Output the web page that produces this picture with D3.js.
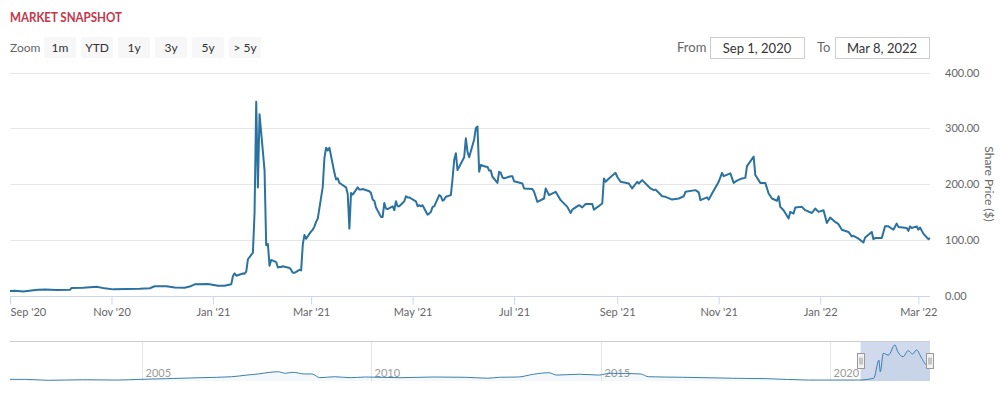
<!DOCTYPE html>
<html>
<head>
<meta charset="utf-8">
<script src="https://cdn.jsdelivr.net/npm/d3@7"></script>
<style>
  body { margin: 0; background: #fff; }
  svg { display: block; font-family: Lato, "Open Sans", sans-serif; }
</style>
</head>
<body>
<svg id="chart" width="1000" height="396"></svg>
<script>
// --- Data ---
const sharePrice = [
  ["2020-09-01",8],["2020-09-04",8.5],["2020-09-09",7.3],["2020-09-15",9.5],["2020-09-18",10.5],
  ["2020-09-22",10.8],["2020-09-29",10],["2020-10-07",10.2],["2020-10-08",13.5],["2020-10-15",13.8],
  ["2020-10-23",15.8],["2020-10-28",12.8],["2020-11-02",11],["2020-11-10",11.5],["2020-11-18",12],
  ["2020-11-24",13],["2020-11-27",16.5],["2020-12-04",16.5],["2020-12-09",14.5],["2020-12-15",14],
  ["2020-12-18",16],["2020-12-21",20],["2020-12-29",20.5],["2021-01-04",17.5],["2021-01-08",17.5],
  ["2021-01-12",20],["2021-01-13",35],["2021-01-14",39.9],["2021-01-15",35.5],["2021-01-19",39.4],
  ["2021-01-20",39.1],["2021-01-21",43],["2021-01-22",65],["2021-01-25",76.8],["2021-01-26",148],
  ["2021-01-27",347.5],["2021-01-28",193.6],["2021-01-29",325],["2021-02-01",225],["2021-02-02",90],
  ["2021-02-03",92.4],["2021-02-04",53.5],["2021-02-05",63.8],["2021-02-08",60],["2021-02-09",50.3],
  ["2021-02-10",51.2],["2021-02-11",51.1],["2021-02-12",52.4],["2021-02-16",49.5],["2021-02-17",45.9],
  ["2021-02-18",40.7],["2021-02-19",40.6],["2021-02-22",46],["2021-02-23",45],["2021-02-24",91.7],
  ["2021-02-25",108.7],["2021-02-26",101.7],["2021-03-01",115],["2021-03-02",118],["2021-03-03",124],
  ["2021-03-04",132],["2021-03-05",138],["2021-03-08",195],["2021-03-09",247],["2021-03-10",265],
  ["2021-03-11",260],["2021-03-12",265],["2021-03-15",220],["2021-03-16",208],["2021-03-17",210],
  ["2021-03-18",202],["2021-03-19",200],["2021-03-22",194],["2021-03-23",182],["2021-03-24",120],
  ["2021-03-25",184],["2021-03-26",181],["2021-03-29",194],["2021-03-30",190],["2021-03-31",190],
  ["2021-04-01",191],["2021-04-05",187],["2021-04-06",184],["2021-04-07",172],["2021-04-08",170],
  ["2021-04-09",158],["2021-04-12",141],["2021-04-13",141],["2021-04-14",166],["2021-04-15",156],
  ["2021-04-16",155],["2021-04-19",160],["2021-04-20",153],["2021-04-21",169],["2021-04-22",160],
  ["2021-04-23",160],["2021-04-26",169],["2021-04-27",178],["2021-04-28",176],["2021-04-29",176],
  ["2021-04-30",174],["2021-05-03",169],["2021-05-04",160],["2021-05-05",162],["2021-05-06",160],
  ["2021-05-07",162],["2021-05-10",145],["2021-05-11",147],["2021-05-12",150],["2021-05-13",159],
  ["2021-05-14",160],["2021-05-17",180],["2021-05-18",178],["2021-05-19",170],["2021-05-20",172],
  ["2021-05-21",177],["2021-05-24",180],["2021-05-25",209],["2021-05-26",243],["2021-05-27",255],
  ["2021-05-28",225],["2021-06-01",248],["2021-06-02",282],["2021-06-03",258],["2021-06-04",248],
  ["2021-06-07",280],["2021-06-08",300],["2021-06-09",303],["2021-06-10",222],["2021-06-11",234],
  ["2021-06-14",231],["2021-06-15",231],["2021-06-16",224],["2021-06-17",224],["2021-06-18",213],
  ["2021-06-21",202],["2021-06-22",222],["2021-06-23",220],["2021-06-24",212],["2021-06-25",210],
  ["2021-06-28",213],["2021-06-29",214],["2021-06-30",214],["2021-07-01",205],["2021-07-06",201],
  ["2021-07-07",192],["2021-07-12",191],["2021-07-13",186],["2021-07-15",168],["2021-07-19",174],
  ["2021-07-20",192],["2021-07-22",180],["2021-07-26",186],["2021-07-29",171],["2021-08-02",159],
  ["2021-08-04",148],["2021-08-05",154],["2021-08-09",162],["2021-08-11",158],["2021-08-13",164],
  ["2021-08-17",164],["2021-08-18",154],["2021-08-23",165],["2021-08-24",210],["2021-08-25",204],
  ["2021-08-27",210],["2021-08-31",220],["2021-09-01",213],["2021-09-03",204],["2021-09-08",201],
  ["2021-09-10",192],["2021-09-13",204],["2021-09-14",201],["2021-09-16",207],["2021-09-21",192],
  ["2021-09-23",189],["2021-09-24",190],["2021-09-28",178],["2021-09-30",177],["2021-10-04",172],
  ["2021-10-08",174],["2021-10-11",178],["2021-10-12",186],["2021-10-18",189],["2021-10-20",185],
  ["2021-10-21",171],["2021-10-25",176],["2021-10-26",172],["2021-10-28",183],["2021-11-01",204],
  ["2021-11-03",220],["2021-11-04",214],["2021-11-08",219],["2021-11-10",202],["2021-11-12",206],
  ["2021-11-15",210],["2021-11-17",211],["2021-11-18",232],["2021-11-22",249],["2021-11-23",216],
  ["2021-11-26",202],["2021-11-29",202],["2021-12-01",183],["2021-12-03",174],["2021-12-06",170],
  ["2021-12-07",178],["2021-12-08",159],["2021-12-10",153],["2021-12-13",138],["2021-12-14",150],
  ["2021-12-16",147],["2021-12-17",158],["2021-12-21",159],["2021-12-23",153],["2021-12-27",148],
  ["2021-12-29",156],["2021-12-31",150],["2022-01-03",153],["2022-01-05",130],["2022-01-07",140],
  ["2022-01-10",132],["2022-01-12",128],["2022-01-14",118],["2022-01-18",114],["2022-01-20",106],
  ["2022-01-21",107],["2022-01-24",102],["2022-01-27",95],["2022-01-28",104],["2022-02-01",114],
  ["2022-02-02",101],["2022-02-03",103],["2022-02-07",103],["2022-02-09",124],["2022-02-11",124],
  ["2022-02-14",118],["2022-02-16",129],["2022-02-17",123],["2022-02-22",121],["2022-02-23",116],
  ["2022-02-24",124],["2022-02-25",121],["2022-02-28",124],["2022-03-01",118],["2022-03-02",122],
  ["2022-03-04",111],["2022-03-07",101],["2022-03-08",103]
];

// full history shown in the navigator strip
const navHistory = [
  ["2002-02-13",12],["2002-06-15",12],["2002-12-15",5],["2003-09-15",9],["2004-06-15",7],
  ["2004-12-15",12],["2005-07-15",17],["2006-04-15",24],["2006-12-15",31],["2007-04-15",43],
  ["2007-07-15",51],["2007-10-15",63],["2007-12-20",67],["2008-02-15",56],["2008-04-15",63],
  ["2008-07-15",51],["2008-09-15",51],["2008-11-15",24],["2009-03-15",31],["2009-07-15",24],
  ["2009-11-15",29],["2010-08-15",24],["2011-05-15",29],["2012-01-15",27],["2012-07-15",20],
  ["2012-10-15",27],["2013-03-15",29],["2013-07-15",49],["2013-11-15",60],["2014-01-15",43],
  ["2014-07-15",49],["2014-12-15",43],["2015-03-15",56],["2015-11-15",51],["2016-01-15",31],
  ["2016-10-15",27],["2017-11-15",20],["2018-08-15",17],["2019-07-15",7],["2020-08-15",7],
  ["2020-12-15",20],["2021-01-25",152],["2021-02-05",67],["2021-03-01",201],["2021-04-10",188],
  ["2021-06-01",261],["2021-06-25",212],["2021-08-05",176],["2021-09-15",220],["2021-10-20",196],
  ["2021-11-20",225],["2022-01-01",165],["2022-02-10",116],["2022-03-08",116]
];

const zoomButtons = ["1m", "YTD", "1y", "3y", "5y", "> 5y"];
const yTicks = [0, 100, 200, 300, 400];
const navYears = [2005, 2010, 2015, 2020];
const rangeFrom = "Sep 1, 2020";
const rangeTo = "Mar 8, 2022";
const rangeStart = "2020-09-01";
const rangeEnd = "2022-03-08";
const historyStart = "2002-02-13";

const parse = d3.timeParse("%Y-%m-%d");
const series = sharePrice.map(([d, v]) => ({ date: parse(d), value: v }));
const navSeries = navHistory.map(([d, v]) => ({ date: parse(d), value: v }));

const svg = d3.select("#chart");
const left = 10, right = 930;

// --- Header ---
svg.append("text")
  .attr("x", 10).attr("y", 22)
  .attr("fill", "#c5364a")
  .attr("textLength", 112)
  .attr("lengthAdjust", "spacingAndGlyphs")
  .style("font-size", "14px").style("font-weight", "bold")
  .text("MARKET SNAPSHOT");

svg.append("text")
  .attr("x", 10).attr("y", 52)
  .attr("fill", "#666").style("font-size", "12px")
  .text("Zoom");

const btn = svg.selectAll("g.btn")
  .data(zoomButtons)
  .enter().append("g")
  .attr("class", "btn")
  .attr("transform", (d, i) => `translate(${44 + i * 37},37)`);

btn.append("rect")
  .attr("width", 32).attr("height", 21).attr("rx", 2)
  .attr("fill", "#f7f7f7");

btn.append("text")
  .attr("x", 16).attr("y", 15)
  .attr("text-anchor", "middle")
  .attr("fill", "#333").style("font-size", "12px")
  .text(d => d);

function rangeBox(label, labelX, boxX, value) {
  svg.append("text")
    .attr("x", labelX).attr("y", 52)
    .attr("fill", "#666").style("font-size", "13px")
    .text(label);
  svg.append("rect")
    .attr("x", boxX + 0.5).attr("y", 37.5)
    .attr("width", 94).attr("height", 21)
    .attr("fill", "#fff").attr("stroke", "#ccc");
  svg.append("text")
    .attr("x", boxX + 47).attr("y", 52.5)
    .attr("text-anchor", "middle")
    .attr("fill", "#333").style("font-size", "13px")
    .text(value);
}
rangeBox("From", 677, 710, rangeFrom);
rangeBox("To", 817, 835, rangeTo);

// --- Main chart ---
const x = d3.scaleTime()
  .domain([parse(rangeStart), parse(rangeEnd)])
  .range([left, right]);

const y = d3.scaleLinear()
  .domain([0, 400])
  .range([295.5, 72.5]);

svg.append("g")
  .selectAll("line")
  .data(yTicks.filter(d => d > 0))
  .enter().append("line")
  .attr("x1", left).attr("x2", right)
  .attr("y1", d => Math.round(y(d)) + 0.5)
  .attr("y2", d => Math.round(y(d)) + 0.5)
  .attr("stroke", "#e6e6e6");

svg.append("g")
  .selectAll("text")
  .data(yTicks)
  .enter().append("text")
  .attr("x", 945)
  .attr("y", d => y(d) + 4)
  .attr("fill", "#666").style("font-size", "11px")
  .text(d => d3.format(".2f")(d));

svg.append("text")
  .attr("transform", `translate(985,${y(200)}) rotate(90)`)
  .attr("text-anchor", "middle")
  .attr("fill", "#666").style("font-size", "12px")
  .text("Share Price ($)");

const xAxisG = svg.append("g")
  .attr("transform", `translate(0,${Math.round(y(0)) + 0.5})`)
  .call(d3.axisBottom(x)
    .ticks(d3.timeMonth.every(2))
    .tickSize(8)
    .tickFormat(d3.timeFormat("%b '%y")));

xAxisG.select(".domain").attr("stroke", "#ccd6eb").attr("d", `M${left},0H${right}`);
xAxisG.selectAll(".tick line").attr("stroke", "#ccd6eb");
xAxisG.selectAll(".tick text")
  .attr("y", 12)
  .attr("fill", "#666")
  .style("font-size", "11px")
  .style("font-family", "Lato, 'Open Sans', sans-serif")
  .attr("text-anchor", (d, i) => i === 0 ? "start" : "middle");

const line = d3.line()
  .x(d => x(d.date))
  .y(d => y(d.value));

svg.append("path")
  .datum(series)
  .attr("fill", "none")
  .attr("stroke", "#2b72a0")
  .attr("stroke-width", 2)
  .attr("stroke-linejoin", "round")
  .attr("d", line);

// --- Navigator ---
const navTop = 341, navBottom = 381;
const nx = d3.scaleTime()
  .domain([parse(historyStart), parse(rangeEnd)])
  .range([left, right]);
const ny = d3.scaleLinear()
  .domain([0, 290])
  .range([navBottom, navTop]);

navYears.forEach(yr => {
  const px = Math.round(nx(new Date(yr, 0, 1))) + 0.5;
  svg.append("line")
    .attr("x1", px).attr("x2", px)
    .attr("y1", navTop).attr("y2", navBottom)
    .attr("stroke", "#e6e6e6");
  svg.append("text")
    .attr("x", px + 3).attr("y", 377)
    .attr("fill", "#999").style("font-size", "11px")
    .text(yr);
});

svg.append("line")
  .attr("x1", left).attr("x2", right)
  .attr("y1", navTop + 0.5).attr("y2", navTop + 0.5)
  .attr("stroke", "#ccc");

const selX0 = nx(parse(rangeStart)), selX1 = nx(parse(rangeEnd));
svg.append("rect")
  .attr("x", selX0).attr("y", navTop + 1)
  .attr("width", selX1 - selX0).attr("height", navBottom - navTop - 1)
  .attr("fill", "rgba(102,133,194,0.3)");

svg.append("path")
  .datum(navSeries)
  .attr("fill", "rgba(43,114,160,0.05)")
  .attr("d", d3.area().x(d => nx(d.date)).y0(navBottom).y1(d => ny(d.value)).curve(d3.curveMonotoneX));

svg.append("path")
  .datum(navSeries)
  .attr("fill", "none")
  .attr("stroke", "#3a80b0")
  .attr("stroke-width", 1)
  .attr("d", d3.line().x(d => nx(d.date)).y(d => ny(d.value)).curve(d3.curveMonotoneX));

[selX0, selX1].forEach(hx => {
  const h = svg.append("g").attr("transform", `translate(${Math.round(hx) - 3.5},353.5)`);
  h.append("rect")
    .attr("width", 7).attr("height", 15)
    .attr("fill", "#f2f2f2").attr("stroke", "#999");
  h.append("path")
    .attr("d", "M2.5,4V11M4.5,4V11")
    .attr("stroke", "#999");
});
</script>
</body>
</html>
